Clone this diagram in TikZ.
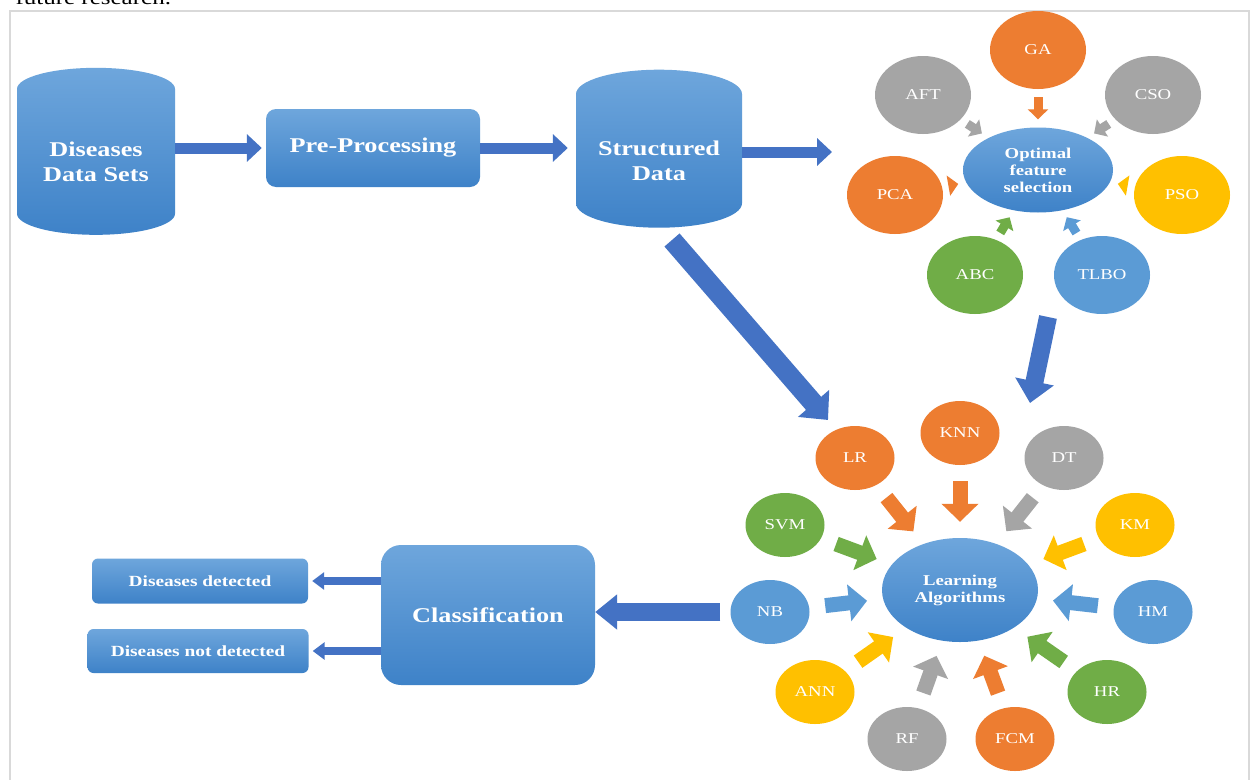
\documentclass[tikz,border=0pt]{standalone}
\usepackage{fontspec}
\setmainfont{Liberation Serif}[FakeStretch=1.25]
\usetikzlibrary{arrows.meta, shapes.geometric, calc, positioning}

\definecolor{boxtop}{HTML}{6EA6DC}
\definecolor{boxbottom}{HTML}{3E82C8}
\definecolor{arrowblue}{HTML}{4472C4}
\definecolor{algorange}{HTML}{ED7D31}
\definecolor{alggray}{HTML}{A5A5A5}
\definecolor{algyellow}{HTML}{FFC000}
\definecolor{alggreen}{HTML}{70AD47}
\definecolor{algblue}{HTML}{5B9BD5}
\definecolor{framegray}{HTML}{D9D9D9}

\begin{document}
\begin{tikzpicture}[x=1pt, y=-1pt,
  bluebox/.style={top color=boxtop, bottom color=boxbottom, text=white, align=center,
    font=\bfseries\fontsize{21}{25}\selectfont},
  database/.style={bluebox, cylinder, shape border rotate=90, aspect=0.4, inner sep=0pt},
  procbox/.style={bluebox, rectangle, rounded corners=10pt, inner sep=0pt},
  outbox/.style={bluebox, rectangle, rounded corners=6pt, inner sep=0pt,
    font=\bfseries\fontsize{15.5}{18}\selectfont},
  hub/.style={ellipse, top color=boxtop, bottom color=boxbottom, text=white, align=center,
    inner sep=0pt, font=\bfseries\fontsize{15}{17}\selectfont},
  sat/.style={ellipse, fill=#1, text=white, inner sep=0pt, font=\fontsize{15}{18}\selectfont},
  fatarrow/.style n args={3}{draw=arrowblue, line width=#1, -{Triangle[length=#2, width=#3]}},
  ofsarrow/.style={draw=#1, line width=9pt, -{Triangle[length=10pt, width=20pt]},
    shorten <=8pt, shorten >=8pt},
  laarrow/.style={draw=#1, line width=15pt, -{Triangle[length=18pt, width=36pt]},
    shorten <=16pt, shorten >=16pt}
]
  \useasboundingbox (0,0) rectangle (1252,779);
  \clip (0,0) rectangle (1252,779);
  \fill[white] (0,0) rectangle (1252,779);

  % caption cut off by the page
  \node[anchor=base west, font=\fontsize{20}{24}\selectfont] (cap) at (12,5) {future research.};
  \draw[framegray, line width=1.5pt] (10,11) rectangle (1249,800);

  % pipeline
  \node[database, minimum width=158pt, minimum height=167pt] (ds) at (96,162) {Diseases\\Data Sets};
  \node[procbox, minimum width=214pt, minimum height=78pt] (pre) at (373,148) {Pre-Processing};
  \node[database, minimum width=166pt, minimum height=158pt] (sd) at (659,161) {Structured\\Data};

  \draw[fatarrow={11pt}{15pt}{27pt}, shorten >=4pt] (ds.east |- pre.west) -- (pre.west);
  \draw[fatarrow={11pt}{15pt}{27pt}, shorten >=8pt] (pre.east) -- (sd.west |- pre.east);
  \coordinate (ofsin) at (832,152);
  \draw[fatarrow={11pt}{15pt}{27pt}] (sd.east |- ofsin) -- (ofsin);

  % optimal feature selection
  \node[hub, minimum width=150pt, minimum height=85pt] (ofs) at (1038,170) {Optimal\\feature\\selection};
  \foreach \name/\lbl/\col/\x/\y in {ga/GA/algorange/1038/50, aft/AFT/alggray/923/95,
      cso/CSO/alggray/1153/95, pca/PCA/algorange/895/195, pso/PSO/algyellow/1182/195,
      abc/ABC/alggreen/975/275, tlbo/TLBO/algblue/1102/275} {
    \node[sat=\col, minimum width=96pt, minimum height=78pt] (\name) at (\x,\y) {\lbl};
    \draw[ofsarrow=\col] (\name) -- (ofs);
  }

  % learning algorithms
  \node[hub, minimum width=156pt, minimum height=104pt] (la) at (960,590) {Learning\\Algorithms};
  \foreach \name/\lbl/\col/\x/\y in {lr/LR/algorange/855/458, knn/KNN/algorange/960/433,
      dt/DT/alggray/1064/458, svm/SVM/alggreen/785/525, km/KM/algyellow/1135/525,
      nb/NB/algblue/770/612, hm/HM/algblue/1153/612, ann/ANN/algyellow/815/692,
      hr/HR/alggreen/1107/692, rf/RF/alggray/907/739, fcm/FCM/algorange/1015/739} {
    \node[sat=\col, minimum width=79pt, minimum height=64pt] (\name) at (\x,\y) {\lbl};
    \draw[laarrow=\col] (\name) -- (la);
  }

  \coordinate (sdout) at (672,240);
  \coordinate (lrin) at (828,420);
  \draw[fatarrow={20pt}{22pt}{40pt}] (sdout) -- (lrin);
  \coordinate (ofsout) at (1048,317);
  \coordinate (lain) at (1030,403);
  \draw[fatarrow={18pt}{22pt}{38pt}] (ofsout) -- (lain);

  % classification
  \node[procbox, rounded corners=20pt, minimum width=214pt, minimum height=140pt] (cls) at (488,615) {Classification};
  \node[outbox, minimum width=216pt, minimum height=45pt] (det) at (200,581) {Diseases detected};
  \node[outbox, minimum width=221pt, minimum height=44pt] (notdet) at (198,651) {Diseases not detected};

  \draw[fatarrow={18pt}{22pt}{34pt}, shorten <=10pt] (nb.west) -- (nb.west -| cls.east);
  \draw[fatarrow={8pt}{12pt}{17pt}, shorten >=4pt] (cls.west |- det.east) -- (det.east);
  \draw[fatarrow={8pt}{12pt}{17pt}, shorten >=4pt] (cls.west |- notdet.east) -- (notdet.east);
\end{tikzpicture}
\end{document}
